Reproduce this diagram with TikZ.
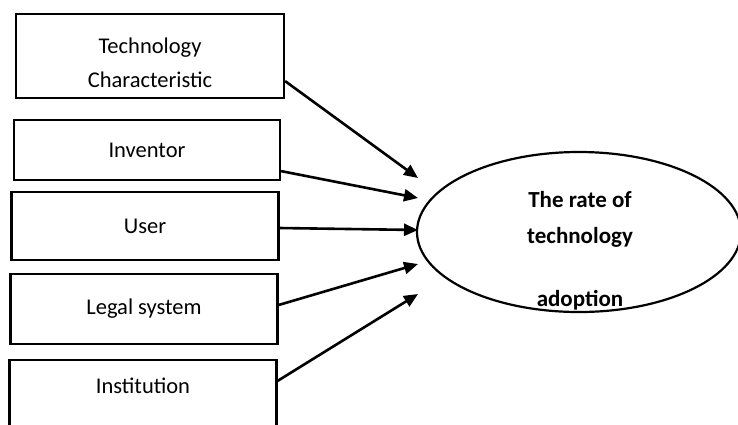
\documentclass[tikz,border=0pt]{standalone}
\usepackage{fontspec}
\setmainfont{Carlito}
\usetikzlibrary{arrows.meta,shapes.geometric}

\begin{document}
\begin{tikzpicture}[x=1pt,y=-1pt,
		box/.style={draw,line width=2.2pt,rectangle,inner sep=0pt,align=center,font=\fontsize{22.5}{34}\selectfont},
		flow/.style={line width=2.6pt,-{Triangle[length=14pt,width=12pt]}}]
			\useasboundingbox (0,0) rectangle (738,424);
			\clip (0,0) rectangle (738,424);
			\node[box,minimum width=268pt,minimum height=84pt,text height=64pt] (tech) at (150,56) {Technology\\Characteristic};
			\node[box,minimum width=266pt,minimum height=60pt] (inv) at (147,150) {Inventor};
			\node[box,minimum width=267pt,minimum height=68pt] (user) at (145,226) {User};
			\node[box,minimum width=267pt,minimum height=70pt] (legal) at (144,309) {Legal system};
			\node[box,minimum width=267pt,minimum height=80pt,text depth=28pt] (inst) at (143,400) {Institution};
			\node[draw,ellipse,line width=2.2pt,minimum width=324pt,minimum height=160pt,inner sep=0pt] (rate) at (579,232) {};
			\node[align=center,font=\bfseries\fontsize{23}{36}\selectfont] (ratetxt) at (580,251) {The rate of\\technology\\[27pt]adoption};
			\foreach \n/\y in {1/178,2/198,3/230,4/264,5/294}
				\coordinate (t\n) at (418,\y);
			\draw[flow] ([yshift=18pt]tech.south east) -- (t1);
			\draw[flow] ([yshift=10pt]inv.south east) -- (t2);
			\draw[flow] ([yshift=-2pt]user.east) -- (t3);
			\draw[flow] ([yshift=4pt]legal.east) -- (t4);
			\draw[flow] ([yshift=-22pt]inst.north east) -- (t5);
		\end{tikzpicture}
\end{document}
